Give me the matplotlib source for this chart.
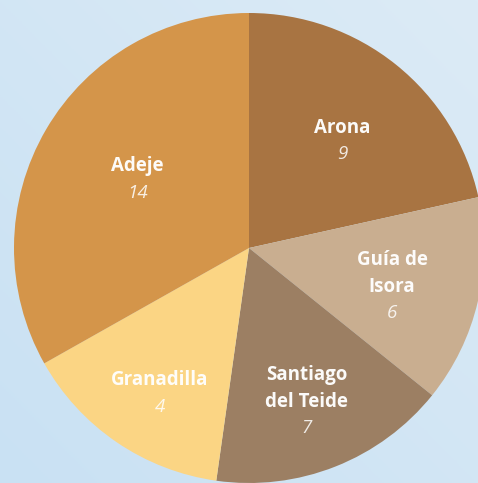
import numpy as np
import matplotlib.pyplot as plt

# municipios y valores
names = ['Arona', 'Guía de\nIsora', 'Santiago\ndel Teide', 'Granadilla', 'Adeje']
values = [9, 6, 7, 4, 14]
# slice sizes as drawn in the picture (degrees), not strictly proportional to values
shares = [77.5, 51.3, 59.2, 52.6, 119.4]
colors = ['#a87442', '#c9ae90', '#9c7f63', '#fbd584', '#d4954a']
# label placement (polar, degrees / fraction of radius)
label_ang = [49.5, -14.4, -69.1, -121.8, 147.8]
label_r = [0.61, 0.628, 0.691, 0.72, 0.561]


def main():
    W, H, dpi = 478, 483, 100
    fig = plt.figure(figsize=(W / dpi, H / dpi), dpi=dpi)
    ax = fig.add_axes([0, 0, 1, 1])

    # pie geometry in pixels
    cx, cy, R = 249, 248, 235
    x0, x1 = -cx / R, (W - cx) / R
    y0, y1 = -(H - cy) / R, cy / R

    # soft blue background
    g = np.linspace(0, 1, 256)
    grad = np.add.outer(g * 0.5, g * 0.5)
    cmap = plt.matplotlib.colors.LinearSegmentedColormap.from_list('bg', ['#c9e1f3', '#dcebf6'])
    ax.imshow(grad, extent=[x0, x1, y0, y1], cmap=cmap, origin='lower', aspect='auto', zorder=0)

    wedges, _ = ax.pie(shares, colors=colors, startangle=90, counterclock=False,
                       radius=1.0, center=(0, 0), wedgeprops=dict(linewidth=0))
    for w in wedges:
        w.set_zorder(2)

    step = 19.1  # points between lines
    for name, val, a, r in zip(names, values, label_ang, label_r):
        ang = np.deg2rad(a)
        px, py = r * np.cos(ang), r * np.sin(ang)
        lines = name.split('\n')
        n = len(lines) + 1
        for i, line in enumerate(lines + [str(val)]):
            off = ((n - 1) / 2 - i) * step - 1.4
            is_val = i == n - 1
            ax.annotate(line, (px, py), xytext=(0, off), textcoords='offset points',
                        ha='center', va='center', fontsize=13.5, family='Open Sans',
                        fontweight='normal' if is_val else 'bold',
                        fontstyle='italic' if is_val else 'normal',
                        color='white', alpha=0.85 if is_val else 0.97, zorder=3)

    ax.set_xlim(x0, x1)
    ax.set_ylim(y0, y1)
    ax.set_aspect('auto')
    ax.axis('off')
    fig.savefig('out.png', dpi=dpi)


if __name__ == '__main__':
    main()
